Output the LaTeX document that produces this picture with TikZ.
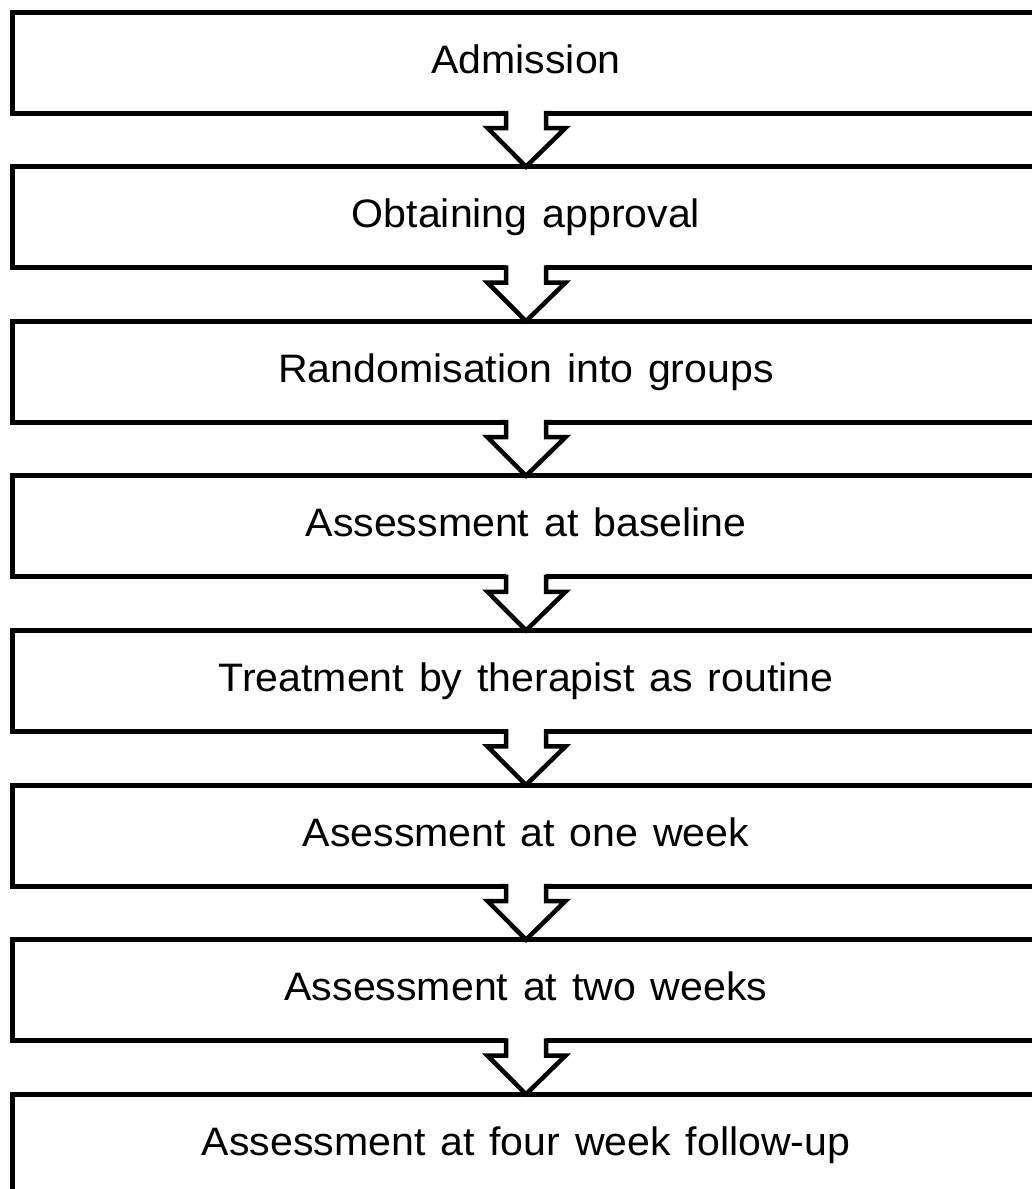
\documentclass[tikz,border=0pt]{standalone}
\usepackage{fontspec}
\setmainfont{Liberation Sans}[FakeStretch=1.035, WordSpace=1.3]
\usetikzlibrary{calc}
\tikzset{
  flowbox/.style={draw=black, line width=5pt, rectangle, outer sep=0pt, inner sep=0pt,
    minimum width=1028pt, minimum height=101pt, fill=none,
    font=\fontsize{39.7pt}{46pt}\selectfont, text height=26pt, text depth=5pt},
  arrowline/.style={draw=black, line width=4.5pt, line join=miter},
}
\newcommand{\flowarrow}[2]{%
  \fill[white] ($(#1.south)+(-20,3)$) rectangle ($(#1.south)+(20,-3)$);
  \draw[arrowline] ($(#1.south)+(-26,0)$) -- ($(#1.south)+(-20,0)$) -- ++(0,-15) -- ++(-18.5,0)
    -- (#2.north) -- ($(#1.south)+(39.5,-15)$) -- ++(-19.5,0) -- ++(0,15) -- ++(6,0);
}
\begin{document}
\begin{tikzpicture}[x=1pt,y=1pt]
\clip (0,0) rectangle (1032,-1189);
\fill[white] (0,0) rectangle (1032,-1189);
\foreach \i/\t in {1/Admission, 2/Obtaining approval, 3/Randomisation into groups,
  4/Assessment at baseline, 5/Treatment by therapist as routine, 6/Asessment at one week,
  7/Assessment at two weeks, 8/Assessment at four week follow-up}{
  \node[flowbox] (b\i) at (526, {-(62.5+154.6*(\i-1))}) {\t};
}
\flowarrow{b1}{b2}
\flowarrow{b2}{b3}
\flowarrow{b3}{b4}
\flowarrow{b4}{b5}
\flowarrow{b5}{b6}
\flowarrow{b6}{b7}
\flowarrow{b7}{b8}
\end{tikzpicture}
\end{document}
